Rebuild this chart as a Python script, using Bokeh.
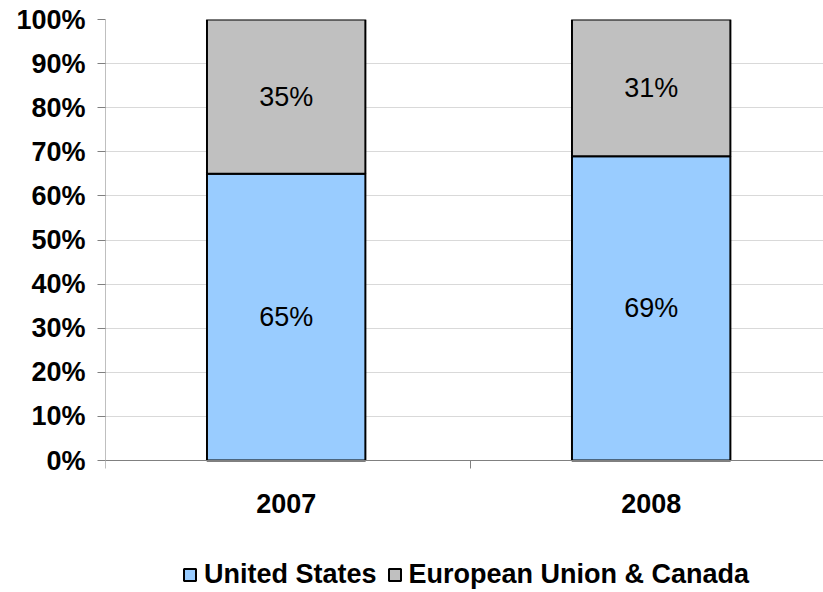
from bokeh.plotting import figure
from bokeh.models import Range1d, FixedTicker, Legend, LegendItem, ColumnDataSource, Span
from bokeh.core.properties import value
from bokeh.embed import file_html
from bokeh.resources import INLINE

years = ["2007", "2008"]
united_states = [65, 69]
eu_canada = [35, 31]
y_ticks = [0, 10, 20, 30, 40, 50, 60, 70, 80, 90, 100]

FONT = "Liberation Sans"
AXIS_GREY = "#808080"

W, H = 823, 592
LEFT, TOP = 105, 19          # frame origin (px)
ZERO_PX = 460                # pixel row of 0 %
CAT_PX = 365                 # px per category
px_per_unit = (ZERO_PX - TOP) / 100.0
y_min = -(H - ZERO_PX) / px_per_unit
x_max = (W - LEFT) / CAT_PX
tick_len = 8 / px_per_unit

x_pos = [i + 0.495 for i in range(len(years))]
x_bounds = [i for i in range(len(years) + 1)]

src = ColumnDataSource(dict(x=x_pos, us=united_states, eu=eu_canada))

p = figure(width=W, height=H, output_backend="svg", toolbar_location=None,
           x_range=Range1d(0, x_max), y_range=Range1d(y_min, 100),
           x_axis_location=None,
           min_border_left=LEFT, min_border_right=0, min_border_top=TOP,
           min_border_bottom=0)
p.outline_line_color = None
p.background_fill_color = "white"

# grid (10% .. 90%)
p.xgrid.grid_line_color = None
p.ygrid.ticker = FixedTicker(ticks=y_ticks[1:-1])
p.ygrid.grid_line_color = "#D9D9D9"
p.ygrid.grid_line_width = 1

# x axis line and category boundary ticks
p.add_layout(Span(location=0, dimension="width", line_color=AXIS_GREY, line_width=1))
p.segment(x0=x_bounds, y0=[0] * len(x_bounds), x1=x_bounds,
          y1=[-tick_len] * len(x_bounds), line_color=AXIS_GREY, line_width=1)
# y axis line
p.segment(x0=[0], y0=[0], x1=[0], y1=[100], line_color=AXIS_GREY, line_width=1)

rs = p.vbar_stack(["us", "eu"], x="x", width=0.434, source=src,
                  fill_color=["#99CCFF", "#C0C0C0"], line_color="black",
                  line_width=2)

# data labels
us_mid = [v / 2 for v in united_states]
eu_mid = [u + e / 2 for u, e in zip(united_states, eu_canada)]
p.text(x=x_pos, y=us_mid, text=[f"{v}%" for v in united_states],
       text_align="center", text_baseline="middle",
       text_font=value(FONT), text_font_size="27px", text_color="black")
p.text(x=x_pos, y=eu_mid, text=[f"{v}%" for v in eu_canada],
       text_align="center", text_baseline="middle",
       text_font=value(FONT), text_font_size="27px", text_color="black")

# category labels
p.text(x=x_pos, y=[0] * len(x_pos), text=years, y_offset=43,
       text_align="center", text_baseline="middle",
       text_font=value(FONT), text_font_style="bold", text_font_size="27px",
       text_color="black")

# y axis (labels and ticks only)
p.yaxis.ticker = FixedTicker(ticks=y_ticks)
p.yaxis.major_label_overrides = {t: f"{t}%" for t in y_ticks}
p.yaxis.major_label_text_font = FONT
p.yaxis.major_label_text_font_style = "bold"
p.yaxis.major_label_text_font_size = "27px"
p.yaxis.major_label_text_color = "black"
p.yaxis.axis_line_color = None
p.yaxis.major_tick_line_color = AXIS_GREY
p.yaxis.major_tick_out = 8
p.yaxis.major_tick_in = 0
p.yaxis.minor_tick_line_color = None
p.yaxis.major_label_standoff = 12

legend = Legend(items=[LegendItem(label="United States", renderers=[rs[0]]),
                       LegendItem(label="European Union & Canada", renderers=[rs[1]])],
                orientation="horizontal", location=(77, 2),
                border_line_color=None, background_fill_alpha=0,
                label_text_font=FONT, label_text_font_style="bold",
                label_text_font_size="27px", label_text_color="black",
                glyph_width=15, glyph_height=15, label_standoff=7,
                spacing=10, padding=0, margin=0)
p.add_layout(legend, "center")

open("out.html", "w").write(file_html(p, INLINE))
